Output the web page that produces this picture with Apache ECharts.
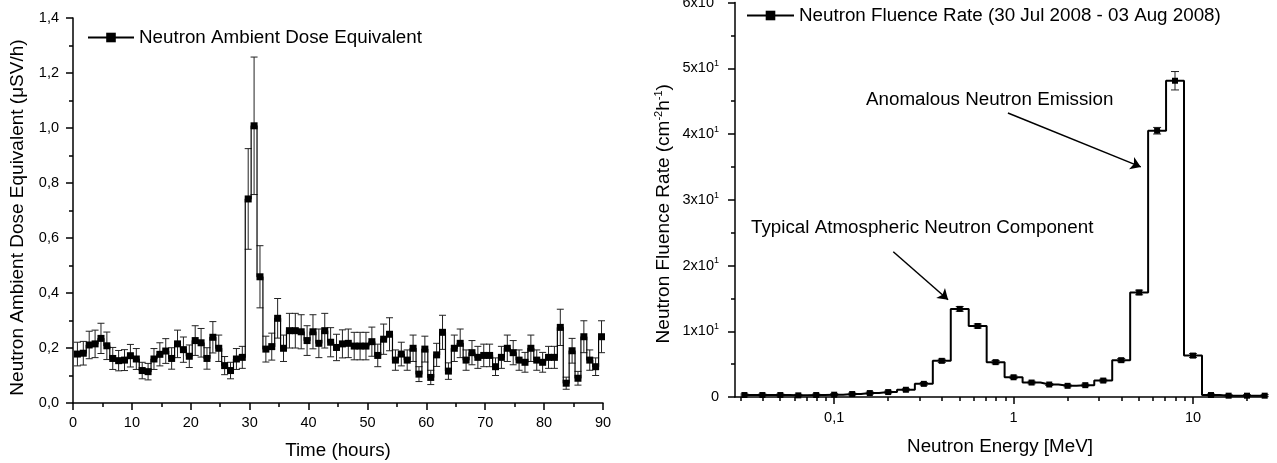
<!DOCTYPE html>
<html>
<head>
<meta charset="utf-8">
<script src="https://cdn.jsdelivr.net/npm/echarts@6/dist/echarts.min.js"></script>
<style>
html,body{margin:0;padding:0;background:#fff;}
#chart{width:1277px;height:463px;}
</style>
</head>
<body>
<div id="chart"></div>
<script>
// ---------- Left panel: neutron ambient dose equivalent vs time ----------
const hours = [0.75,1.75,2.75,3.75,4.75,5.75,6.75,7.75,8.75,9.75,
  10.75,11.75,12.75,13.75,14.75,15.75,16.75,17.75,18.75,19.75,
  20.75,21.75,22.75,23.75,24.75,25.75,26.75,27.75,28.75,29.75,
  30.75,31.75,32.75,33.75,34.75,35.75,36.75,37.75,38.75,39.75,
  40.75,41.75,42.75,43.75,44.75,45.75,46.75,47.75,48.75,49.75,
  50.75,51.75,52.75,53.75,54.75,55.75,56.75,57.75,58.75,59.75,
  60.75,61.75,62.75,63.75,64.75,65.75,66.75,67.75,68.75,69.75,
  70.75,71.75,72.75,73.75,74.75,75.75,76.75,77.75,78.75,79.75,
  80.75,81.75,82.75,83.75,84.75,85.75,86.75,87.75,88.75,89.75];
const dose = [0.178,0.181,0.211,0.215,0.235,0.208,0.162,0.154,0.156,0.172,
  0.160,0.118,0.114,0.160,0.177,0.189,0.162,0.215,0.194,0.170,
  0.227,0.219,0.162,0.239,0.199,0.136,0.118,0.160,0.166,0.742,
  1.008,0.459,0.196,0.205,0.308,0.199,0.263,0.263,0.259,0.227,
  0.259,0.217,0.263,0.221,0.202,0.215,0.217,0.207,0.207,0.207,
  0.223,0.173,0.232,0.250,0.156,0.178,0.156,0.199,0.105,0.196,
  0.093,0.175,0.257,0.116,0.199,0.217,0.156,0.183,0.166,0.173,
  0.173,0.132,0.166,0.199,0.183,0.156,0.148,0.199,0.156,0.148,
  0.166,0.166,0.275,0.072,0.190,0.090,0.241,0.156,0.132,0.241];
const doseErr = [0.043,0.043,0.050,0.050,0.055,0.050,0.040,0.037,0.038,0.041,
  0.038,0.030,0.030,0.038,0.042,0.045,0.039,0.050,0.046,0.041,
  0.054,0.052,0.039,0.057,0.048,0.033,0.030,0.038,0.040,0.183,
  0.250,0.113,0.047,0.049,0.072,0.048,0.063,0.063,0.062,0.054,
  0.062,0.052,0.063,0.053,0.048,0.051,0.052,0.050,0.050,0.050,
  0.053,0.041,0.055,0.060,0.037,0.043,0.037,0.048,0.027,0.047,
  0.026,0.042,0.062,0.030,0.048,0.052,0.037,0.044,0.040,0.041,
  0.041,0.032,0.040,0.048,0.044,0.037,0.036,0.048,0.037,0.036,
  0.040,0.040,0.066,0.022,0.045,0.025,0.058,0.037,0.032,0.058];

// ---------- Right panel: neutron fluence rate spectrum ----------
const energy = [0.0316,0.0398,0.0501,0.0631,0.0794,0.1,0.126,0.158,0.2,0.251,
  0.316,0.398,0.501,0.631,0.794,1,1.26,1.58,2,2.51,
  3.16,3.98,5.01,6.31,7.94,10,12.6,15.8,20,25.1];
const fluence = [0.3,0.3,0.3,0.25,0.3,0.35,0.45,0.6,0.75,1.1,
  2.0,5.5,13.4,10.8,5.3,3.0,2.2,1.9,1.7,1.8,
  2.5,5.6,15.9,40.5,48.1,6.3,0.3,0.2,0.2,0.2];
const fluenceErr = [0.15,0.15,0.15,0.15,0.15,0.15,0.15,0.15,0.15,0.15,
  0.2,0.25,0.35,0.3,0.25,0.2,0.2,0.15,0.15,0.15,
  0.2,0.25,0.35,0.5,1.4,0.3,0.15,0.15,0.15,0.15];
const energyMajorTicks = [0.1, 1, 10];
const energyMinorTicks = [0.03,0.04,0.05,0.06,0.07,0.08,0.09,
  0.2,0.3,0.4,0.5,0.6,0.7,0.8,0.9,
  2,3,4,5,6,7,8,9,20];
const energyLabels = {0.1: '0,1', 1: '1', 10: '10'};

const FONT = 'Liberation Sans, Arial, sans-serif';
const TXT = 18.8;
const leftName = 'Neutron Ambient Dose Equivalent';
const rightName = 'Neutron Fluence Rate (30 Jul 2008 - 03 Aug 2008)';

function errData(xs, ys, es) {
  return xs.map((x, i) => [x, ys[i] - es[i], ys[i] + es[i]]);
}
function errRender(hw) {
  return function (params, api) {
    const x = api.value(0);
    const pLo = api.coord([x, api.value(1)]);
    const pHi = api.coord([x, api.value(2)]);
    const st = { stroke: '#222', lineWidth: 1 };
    return {
      type: 'group',
      children: [
        { type: 'line', shape: { x1: pHi[0], y1: pHi[1], x2: pLo[0], y2: pLo[1] }, style: st },
        { type: 'line', shape: { x1: pHi[0] - hw, y1: pHi[1], x2: pHi[0] + hw, y2: pHi[1] }, style: st },
        { type: 'line', shape: { x1: pLo[0] - hw, y1: pLo[1], x2: pLo[0] + hw, y2: pLo[1] }, style: st }
      ]
    };
  };
}

const axisLineStyle = { color: '#000', width: 1.5 };

const chart = echarts.init(document.getElementById('chart'), null, { renderer: 'canvas' });
chart.setOption({
  animation: false,
  backgroundColor: '#fff',
  textStyle: { fontFamily: FONT },
  grid: [
    { left: 73, right: 674, top: 18, bottom: 60, containLabel: false, outerBoundsMode: 'none' },
    { left: 735, right: 12, top: 2.5, bottom: 66, containLabel: false, outerBoundsMode: 'none' }
  ],
  legend: [
    {
      data: [leftName], left: 87, top: 28, padding: 0,
      itemWidth: 46, itemHeight: 12, itemGap: 8,
      textStyle: { fontSize: TXT, color: '#000', fontFamily: FONT }
    },
    {
      data: [rightName], left: 746, top: 6, padding: 0,
      itemWidth: 47, itemHeight: 12,
      textStyle: { fontSize: TXT, color: '#000', fontFamily: FONT }
    }
  ],
  xAxis: [
    {
      gridIndex: 0, type: 'value', min: 0, max: 90, interval: 10,
      name: 'Time (hours)', nameLocation: 'middle', nameGap: 38,
      nameTextStyle: { fontSize: TXT, color: '#000', fontFamily: FONT },
      axisLine: { lineStyle: axisLineStyle },
      axisTick: { inside: false, length: 7, lineStyle: { color: '#000', width: 1.5 } },
      minorTick: { show: true, splitNumber: 2, length: 4, lineStyle: { color: '#000', width: 1.5 } },
      axisLabel: { fontSize: 14.5, color: '#000', margin: 12, fontFamily: FONT },
      splitLine: { show: false }
    },
    {
      gridIndex: 1, type: 'log', logBase: 10, min: 0.028, max: 25.2, position: 'bottom',
      name: 'Neutron Energy [MeV]', nameLocation: 'middle', nameGap: 40,
      nameTextStyle: { fontSize: TXT, color: '#000', fontFamily: FONT },
      axisLine: { onZero: false, lineStyle: axisLineStyle },
      axisTick: { customValues: energyMajorTicks, length: 7, lineStyle: { color: '#000', width: 1.5 } },
      axisLabel: {
        customValues: energyMajorTicks, fontSize: 14.5, color: '#000', margin: 13, fontFamily: FONT,
        formatter: v => energyLabels[v] !== undefined ? energyLabels[v] : String(v).replace('.', ',')
      },
      splitLine: { show: false }
    },
    {
      gridIndex: 1, type: 'log', logBase: 10, min: 0.028, max: 25.2, position: 'bottom',
      axisLine: { show: false },
      axisTick: { customValues: energyMinorTicks, length: 4, lineStyle: { color: '#000', width: 1.5 } },
      axisLabel: { show: false },
      splitLine: { show: false }
    }
  ],
  yAxis: [
    {
      gridIndex: 0, type: 'value', min: 0, max: 1.4, interval: 0.2,
      name: 'Neutron Ambient Dose Equivalent (μSV/h)', nameLocation: 'middle', nameGap: 46,
      nameTextStyle: { fontSize: 19, color: '#000', fontFamily: FONT, padding: [0, 14, 0, 0] },
      axisLine: { show: true, lineStyle: axisLineStyle },
      axisTick: { show: true, length: 7, lineStyle: { color: '#000', width: 1.5 } },
      minorTick: { show: true, splitNumber: 2, length: 4, lineStyle: { color: '#000', width: 1.5 } },
      axisLabel: {
        fontSize: 14.5, color: '#000', margin: 14, fontFamily: FONT,
        formatter: v => v.toFixed(1).replace('.', ',')
      },
      splitLine: { show: false }
    },
    {
      gridIndex: 1, type: 'value', min: 0, max: 60, interval: 10,
      name: '{a|Neutron Fluence Rate (cm}{s|-2}{a|h}{s|-1}{a|)}', nameLocation: 'middle', nameGap: 60,
      nameTextStyle: {
        fontSize: 19, color: '#000', fontFamily: FONT, padding: [0, 28, 0, 0],
        rich: {
          a: { fontSize: 19, lineHeight: 22, color: '#000', fontFamily: FONT },
          s: { fontSize: 11, lineHeight: 13, verticalAlign: 'top', color: '#000', fontFamily: FONT }
        }
      },
      axisLine: { show: true, lineStyle: axisLineStyle },
      axisTick: { show: true, length: 7, lineStyle: { color: '#000', width: 1.5 } },
      minorTick: { show: true, splitNumber: 2, length: 4, lineStyle: { color: '#000', width: 1.5 } },
      axisLabel: {
        color: '#000', margin: 16, fontFamily: FONT,
        formatter: v => v === 0 ? '{a|0}' : '{a|' + (v / 10) + 'x10}{s|1}',
        rich: {
          a: { fontSize: 14.5, lineHeight: 18, color: '#000', fontFamily: FONT },
          s: { fontSize: 9, lineHeight: 11, verticalAlign: 'top', color: '#000', fontFamily: FONT }
        }
      },
      splitLine: { show: false }
    }
  ],
  series: [
    {
      type: 'custom', xAxisIndex: 0, yAxisIndex: 0, z: 2, silent: true,
      renderItem: errRender(3.5),
      data: errData(hours, dose, doseErr)
    },
    {
      name: leftName, type: 'line', xAxisIndex: 0, yAxisIndex: 0, z: 3,
      step: 'middle', symbol: 'rect', symbolSize: 7, showAllSymbol: true,
      lineStyle: { color: '#000', width: 1.2 },
      itemStyle: { color: '#000' },
      data: hours.map((h, i) => [h, dose[i]])
    },
    {
      type: 'custom', xAxisIndex: 1, yAxisIndex: 1, z: 2, silent: true,
      renderItem: errRender(4),
      data: errData(energy, fluence, fluenceErr)
    },
    {
      name: rightName, type: 'line', xAxisIndex: 1, yAxisIndex: 1, z: 3,
      step: 'middle', symbol: 'rect', symbolSize: 6, showAllSymbol: true,
      lineStyle: { color: '#000', width: 2 },
      itemStyle: { color: '#000' },
      data: energy.map((e, i) => [e, fluence[i]]),
      markLine: {
        silent: true, symbol: ['none', 'arrow'], symbolSize: 10,
        label: { show: false },
        lineStyle: { color: '#000', width: 1.5, type: 'solid' },
        itemStyle: { color: '#000' },
        data: [
          [{ coord: [0.93, 43.2], symbol: 'none' }, { coord: [5.12, 35.0], symbol: 'arrow', symbolSize: 10 }],
          [{ coord: [0.2135, 22.1], symbol: 'none' }, { coord: [0.4315, 14.8], symbol: 'arrow', symbolSize: 10 }]
        ]
      }
    }
  ],
  graphic: [
    { type: 'text', x: 866, y: 100, silent: true,
      style: { text: 'Anomalous Neutron Emission', fontSize: TXT, fontFamily: FONT, fill: '#000', verticalAlign: 'middle' } },
    { type: 'text', x: 751, y: 228, silent: true,
      style: { text: 'Typical Atmospheric Neutron Component', fontSize: TXT, fontFamily: FONT, fill: '#000', verticalAlign: 'middle' } }
  ]
});
</script>
</body>
</html>
